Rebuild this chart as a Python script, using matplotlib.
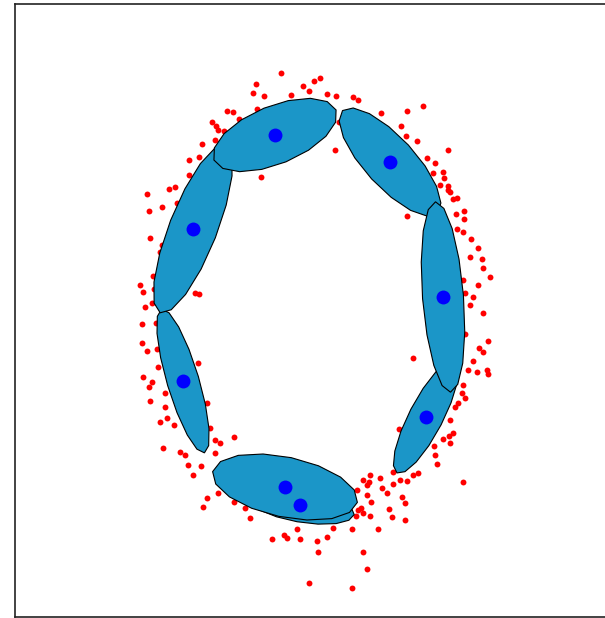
import numpy as np
import matplotlib
matplotlib.use("Agg")
import matplotlib.pyplot as plt

# Sample points (x, y), y grows downward
pts_x = [281, 256, 253, 264, 291, 303, 309, 314, 320, 327, 336, 353, 358, 227, 233, 239, 257,
         212, 216, 218, 224, 202, 215, 189, 199, 189, 147, 169, 175, 162, 149, 177, 150, 162,
         160, 153, 140, 143, 154, 152, 145, 195, 199, 261, 335, 339, 381, 407, 423, 401, 406,
         417, 448, 427, 435, 443, 433, 444, 440, 448, 448, 453, 457, 450, 464, 456, 464, 457,
         463, 471, 478, 470, 482, 483, 490, 463, 478, 465, 473, 470, 483, 407,
         465, 488, 479, 483, 413, 473, 468, 477, 487, 488, 463, 462, 465, 458, 455, 450, 399,
         453, 449, 443, 450, 434, 435, 437, 418, 413, 393, 400, 393, 463, 407,
         370, 363, 369, 380, 382, 387, 357, 367, 371, 402, 405, 389, 392, 405, 358, 363, 370,
         356, 378, 352, 363, 367, 352, 309, 318, 333, 327, 317, 300, 297, 287, 284, 272, 250,
         245, 234, 218, 207, 203, 367, 361,
         142, 156, 142, 147, 157, 158, 143, 152, 149, 150, 165, 165, 160, 167, 174, 163, 180,
         185, 188, 201, 193, 210, 215, 220, 234, 215, 198, 207]
pts_y = [73, 84, 93, 96, 95, 86, 91, 81, 78, 94, 96, 97, 100, 111, 112, 119, 109,
         122, 126, 130, 131, 144, 140, 160, 157, 175, 194, 189, 187, 207, 211, 203, 238, 245,
         252, 276, 285, 292, 289, 303, 307, 293, 294, 177, 150, 122, 113, 111, 106, 126, 136,
         141, 150, 158, 163, 172, 173, 178, 185, 186, 190, 199, 198, 192, 211, 214, 219, 229,
         232, 239, 248, 257, 259, 268, 277, 280, 285, 293, 297, 305, 313, 216,
         334, 341, 348, 352, 358, 361, 370, 372, 370, 374, 385, 393, 398, 403, 407, 420, 429,
         433, 436, 439, 443, 446, 455, 464, 473, 475, 472, 480, 484, 482, 481,
         475, 480, 482, 478, 488, 493, 490, 495, 502, 497, 503, 509, 517, 520, 510, 513, 516,
         516, 529, 529, 552, 569, 588, 583, 552, 528, 537, 541, 539, 529, 538, 535, 539, 518,
         508, 502, 493, 498, 507, 485, 508,
         324, 323, 343, 351, 349, 367, 377, 382, 387, 401, 393, 407, 422, 418, 425, 448, 452,
         455, 465, 466, 475, 428, 440, 443, 437, 453, 363, 403]

# Mixture components: means, axis lengths, orientation (deg)
mean_x = [300, 285, 183, 193, 275, 390, 426, 443]
mean_y = [505, 487, 381, 229, 135, 162, 417, 297]
major = [110, 148, 150, 180, 132, 140, 126, 191]
minor = [34, 60, 32, 48, 58, 50, 34, 41]
angle = [10, 12, 73.4, -68.6, -22.3, 47.3, -62.6, 85.5]

fig = plt.figure(figsize=(6.05, 6.18), dpi=100)
ax = fig.add_axes([14.5 / 605, 1.5 / 618, 613 / 605, 613 / 618])

ax.scatter(pts_x, pts_y, s=18, color='red', linewidths=0, zorder=1)

# ellipses drawn as coarse polygons, like the original
t = np.linspace(0, 2 * np.pi, 17)
for i in range(len(mean_x)):
    th = np.radians(angle[i])
    a, b = major[i] / 2, minor[i] / 2
    ex = mean_x[i] + a * np.cos(t) * np.cos(th) - b * np.sin(t) * np.sin(th)
    ey = mean_y[i] + a * np.cos(t) * np.sin(th) + b * np.sin(t) * np.cos(th)
    ax.fill(ex, ey, facecolor='#1b96c8', edgecolor='black', linewidth=0.8,
            zorder=2 + i * 0.01)

ax.scatter(mean_x, mean_y, s=100, color='blue', linewidths=0, zorder=3)

ax.set_xlim(14.5, 627.5)
ax.set_ylim(616.5, 3.5)
ax.set_xticks([])
ax.set_yticks([])
for sp in ax.spines.values():
    sp.set_color('#222222')
    sp.set_linewidth(1.2)

fig.savefig("out.png", dpi=100)
